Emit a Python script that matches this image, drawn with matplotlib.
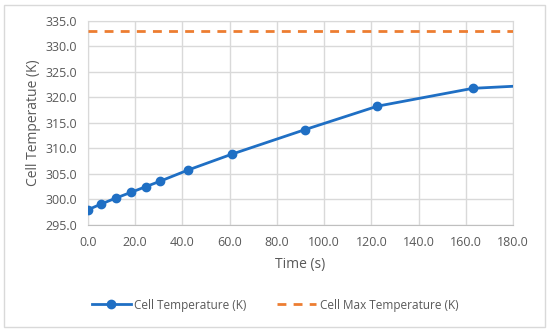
import matplotlib
matplotlib.use("Agg")
import matplotlib.pyplot as plt
from matplotlib.patches import Rectangle

time_s = [0.0, 5.5, 11.9, 18.2, 24.4, 30.6, 42.5, 61.0, 91.9, 122.6, 163.0, 180.0]
cell_temp = [298.0, 299.1, 300.3, 301.4, 302.5, 303.6, 305.8, 308.9, 313.7, 318.3, 321.8, 322.2]
max_time = [0.0, 180.0]
max_temp = [333.0, 333.0]

xticks = [0, 20, 40, 60, 80, 100, 120, 140, 160, 180]
yticks = [295, 300, 305, 310, 315, 320, 325, 330, 335]

plt.rcParams['font.family'] = ['Open Sans', 'DejaVu Sans']
txt = '#595959'
grid = '#D9D9D9'
blue = '#1F6FC4'
orange = '#ED7D31'

fig = plt.figure(figsize=(5.5, 3.32), dpi=100)
fig.patches.append(Rectangle((4/550, 5/332), 541/550, 322/332, transform=fig.transFigure,
                             fill=False, edgecolor='#D9D9D9', linewidth=1))
ax = fig.add_axes([88/550, 1-225/332, 425/550, 204/332])

ax.plot(time_s, cell_temp, color=blue, linewidth=2, marker='o', markersize=6,
        markevery=list(range(len(time_s)-1)), label='Cell Temperature (K)', zorder=3)
ax.plot(max_time, max_temp, color=orange, linewidth=2, linestyle=(0, (3.2, 2.6)),
        label='Cell Max Temperature (K)', zorder=3)

ax.set_xlim(0, 180)
ax.set_ylim(295, 335)
ax.set_xticks(xticks)
ax.set_yticks(yticks)
ax.set_xticklabels([f"{v:.1f}" for v in xticks])
ax.set_yticklabels([f"{v:.1f}" for v in yticks])
ax.grid(True, color=grid, linewidth=1)
ax.set_axisbelow(True)
for s in ax.spines.values():
    s.set_color(grid)
ax.spines['bottom'].set_color('#BFBFBF')
ax.tick_params(length=0, labelsize=9, colors=txt, pad=8)
ax.set_xlabel('Time (s)', fontsize=10, color=txt, labelpad=6)
ax.set_ylabel('Cell Temperatue (K)', fontsize=10, color=txt, labelpad=3)

fig.legend(loc='center', bbox_to_anchor=(0.5, 1-305/332), ncol=2, frameon=False,
           fontsize=8.5, labelcolor=txt, handlelength=3.3, columnspacing=2.6, handletextpad=0.3)

fig.savefig('out.png', dpi=100)
